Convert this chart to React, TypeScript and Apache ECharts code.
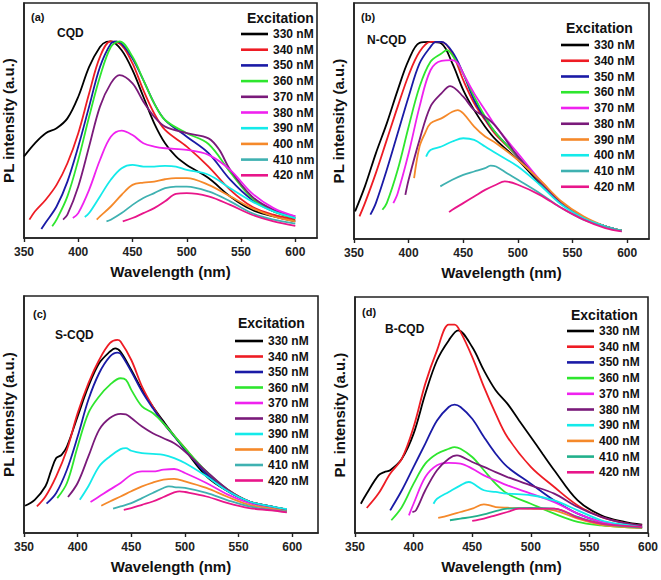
import React, { useEffect, useRef } from "react";
import * as echarts from "echarts";

// ---------- tick values & legend labels ----------
const xTicks = [350, 400, 450, 500, 550, 600];
const labelsA = ["330 nM", "340 nM", "350 nM", "360 nM", "370 nM", "380 nM", "390 nM", "400 nM", "410 nm", "420 nM"];
const labelsBCD = ["330 nM", "340 nM", "350 nM", "360 nM", "370 nM", "380 nM", "390 nM", "400 nM", "410 nM", "420 nM"];

// ---------- (a) CQD ----------
const a330 = [[350,34.7],[360,40.3],[370,44.6],[380,46.7],[390,50.9],[400,60.1],[410,72.8],[420,81.3],[426,83.5],[430,83.7],[440,79.9],[450,71.4],[460,60.1],[470,48.8],[480,40.3],[490,34.7],[500,31.1],[520,25.5],[540,17.7],[560,12.0],[580,9.2],[600,7.1]];
const a340 = [[355,7.8],[360,11.3],[370,16.3],[380,22.6],[390,31.8],[400,44.6],[410,61.5],[420,77.1],[430,83.7],[440,82.0],[450,74.3],[460,62.9],[470,53.0],[480,46.0],[500,38.9],[520,30.4],[540,20.5],[560,13.4],[580,9.9],[600,7.8]];
const a350 = [[366,3.8],[370,6.6],[380,13.4],[390,24.0],[400,38.9],[410,55.9],[420,72.8],[430,82.7],[435,83.7],[440,82.7],[450,76.4],[460,67.2],[470,57.3],[480,50.2],[500,43.1],[520,36.1],[540,24.8],[560,16.3],[580,11.3],[600,8.5]];
const a360 = [[376,5.0],[380,7.8],[390,17.7],[400,33.2],[410,51.6],[420,68.6],[430,81.3],[438,83.7],[450,77.1],[460,67.2],[470,57.3],[480,50.2],[500,44.6],[520,40.0],[540,28.0],[560,17.0],[580,11.3],[600,8.5]];
const a370 = [[386,7.8],[390,9.9],[400,21.9],[410,38.9],[420,55.9],[430,65.8],[438,69.3],[450,65.8],[460,58.0],[470,51.6],[480,47.4],[500,44.6],[520,42.4],[530,37.5],[540,29.0],[560,17.7],[580,12.0],[600,9.2]];
const a380 = [[395,8.5],[400,10.6],[410,20.5],[420,33.2],[430,43.1],[440,45.7],[450,43.8],[460,40.3],[470,38.9],[480,38.2],[500,37.5],[520,35.4],[540,29.0],[560,19.1],[580,12.7],[600,9.2]];
const a390 = [[406,8.9],[410,10.6],[420,17.7],[430,24.8],[440,29.7],[450,31.1],[460,30.4],[470,30.4],[480,30.7],[490,30.4],[500,29.0],[520,26.9],[540,21.2],[560,15.6],[580,11.3],[600,8.5]];
const a400 = [[417,7.8],[420,9.2],[430,13.4],[440,18.4],[450,22.6],[460,23.6],[470,24.0],[480,25.0],[490,25.5],[500,25.5],[520,22.6],[540,17.7],[560,12.7],[580,9.2],[600,7.1]];
const a410 = [[426,7.1],[430,7.8],[440,10.6],[450,14.1],[460,17.0],[470,19.1],[480,21.2],[490,21.9],[500,21.9],[520,19.8],[540,15.6],[560,10.6],[580,7.8],[600,6.1]];
const a420 = [[441,7.1],[450,8.5],[460,10.6],[470,12.7],[480,15.6],[490,18.8],[500,19.1],[520,17.7],[540,14.1],[560,9.9],[580,7.1],[600,5.2]];

// ---------- (b) N-CQD ----------
const b330 = [[351,11.7],[360,22.3],[370,36.3],[380,49.0],[390,63.1],[400,75.8],[410,83.1],[420,83.5],[430,82.8],[440,74.4],[450,63.1],[460,54.6],[470,47.6],[480,42.0],[500,33.5],[520,23.7],[540,15.2],[560,8.9],[580,5.4],[595,3.5]];
const b340 = [[355,9.6],[360,15.2],[370,27.9],[380,42.0],[390,56.1],[400,69.4],[410,79.3],[420,83.5],[430,83.5],[440,78.6],[450,67.3],[460,57.5],[470,50.4],[480,44.1],[500,34.9],[520,24.4],[540,15.2],[560,8.9],[580,5.4],[595,3.5]];
const b350 = [[365,10.3],[370,15.2],[380,29.3],[390,44.8],[400,60.3],[410,74.4],[420,81.4],[425,83.5],[430,83.5],[440,79.3],[450,70.1],[460,58.9],[470,51.1],[480,44.8],[500,34.9],[520,24.4],[540,15.2],[560,8.9],[580,5.4],[595,3.5]];
const b360 = [[376,12.4],[380,15.2],[390,29.3],[400,47.6],[410,64.5],[420,75.1],[430,78.6],[435,80.0],[440,77.9],[450,70.1],[460,60.3],[470,51.8],[480,44.8],[500,34.9],[520,24.4],[540,15.2],[560,8.9],[580,5.4],[595,3.5]];
const b370 = [[386,15.2],[390,19.4],[400,36.3],[410,56.1],[420,71.5],[430,75.5],[440,75.8],[445,74.4],[450,70.1],[460,61.7],[470,54.6],[480,47.6],[500,36.3],[520,25.1],[540,15.2],[560,8.9],[580,5.4],[595,3.2]];
const b380 = [[397,18.7],[400,25.1],[410,42.0],[420,56.1],[430,61.7],[438,64.8],[450,60.3],[460,54.6],[470,51.8],[480,47.6],[500,34.9],[520,24.4],[540,15.2],[560,8.9],[580,5.4],[595,3.5]];
const b390 = [[405,25.8],[410,39.2],[415,44.8],[420,49.0],[430,51.1],[440,53.9],[445,54.6],[450,53.2],[460,47.6],[470,43.4],[480,40.6],[500,33.5],[520,25.1],[540,15.9],[560,9.6],[580,5.4],[595,3.5]];
const b400 = [[416,34.9],[420,37.7],[430,39.2],[440,41.3],[450,42.7],[460,42.0],[470,39.2],[480,36.3],[500,30.7],[520,23.0],[540,14.5],[560,8.9],[580,5.4],[595,3.5]];
const b410 = [[429,22.3],[440,25.1],[450,27.2],[460,28.6],[470,30.0],[475,31.1],[480,30.7],[490,27.9],[500,25.1],[520,19.4],[540,13.1],[560,8.2],[580,5.1],[595,3.5]];
const b420 = [[437,11.4],[440,12.4],[450,15.2],[460,18.0],[470,20.8],[480,23.0],[488,24.4],[500,23.0],[520,18.7],[540,13.1],[560,8.2],[580,4.6],[595,3.2]];

// ---------- (c) S-CQD ----------
const c330 = [[351,11.5],[360,14.0],[370,19.7],[375,26.0],[380,31.6],[385,33.0],[390,36.5],[400,49.2],[410,61.8],[420,71.6],[430,76.5],[435,77.9],[440,76.5],[450,68.8],[460,60.4],[470,53.4],[480,47.1],[500,35.1],[520,23.9],[540,17.6],[560,13.3],[580,11.2],[595,9.8]];
const c340 = [[362,11.2],[370,15.4],[380,23.9],[390,35.1],[400,50.6],[410,63.2],[420,73.0],[430,80.1],[437,81.5],[440,80.8],[450,73.0],[460,61.8],[470,53.4],[480,46.3],[500,35.8],[520,25.3],[540,18.3],[560,13.3],[580,11.2],[595,9.8]];
const c350 = [[371,12.4],[380,16.9],[390,26.7],[400,40.7],[410,56.2],[420,67.4],[430,74.4],[437,76.1],[440,75.6],[450,68.1],[460,59.7],[470,52.7],[480,46.3],[500,35.4],[520,25.0],[540,17.6],[560,13.3],[580,11.2],[595,9.8]];
const c360 = [[381,14.7],[390,21.1],[400,36.5],[410,50.6],[420,57.6],[430,62.5],[440,65.3],[445,64.6],[450,60.4],[460,53.4],[470,50.6],[480,46.3],[500,35.8],[520,26.0],[540,18.3],[560,13.3],[580,11.2],[595,9.8]];
const c370 = [[412,13.1],[420,15.4],[430,18.3],[440,21.1],[450,24.6],[460,26.0],[470,26.0],[480,26.7],[490,27.0],[500,25.3],[520,21.1],[540,16.2],[560,12.6],[580,10.5],[595,9.1]];
const c380 = [[391,15.2],[400,21.1],[410,32.3],[420,43.5],[430,48.5],[440,50.3],[445,50.1],[450,48.5],[460,44.9],[470,42.1],[480,40.0],[490,37.9],[500,34.4],[520,26.0],[540,18.3],[560,13.3],[580,11.2],[595,9.8]];
const c390 = [[402,14.0],[410,19.7],[420,28.1],[430,32.3],[440,35.4],[445,35.8],[450,34.7],[460,33.7],[470,33.4],[480,33.0],[490,31.6],[500,29.5],[520,23.9],[540,17.6],[560,13.3],[580,11.2],[595,10.1]];
const c400 = [[422,11.5],[430,13.3],[440,15.4],[450,17.6],[460,19.7],[470,21.3],[480,22.5],[490,22.8],[500,21.8],[520,19.0],[540,15.2],[560,11.9],[580,10.3],[595,9.1]];
const c410 = [[433,10.3],[440,11.2],[450,12.6],[460,14.7],[470,16.9],[480,19.0],[485,19.7],[490,19.4],[500,19.0],[520,16.9],[540,13.8],[560,11.2],[580,9.8],[595,9.1]];
const c420 = [[443,9.8],[450,10.5],[460,11.9],[470,13.3],[480,15.2],[490,17.1],[495,17.6],[500,17.3],[520,15.4],[540,12.6],[560,10.5],[580,9.6],[595,8.7]];

// ---------- (d) B-CQD ----------
const d330 = [[355,12.4],[360,16.7],[370,24.4],[375,25.8],[380,26.6],[390,31.5],[400,42.1],[410,59.0],[420,73.2],[430,81.6],[438,85.9],[450,78.8],[460,68.9],[470,60.5],[480,54.8],[490,47.7],[500,40.7],[510,33.6],[520,26.6],[540,13.8],[560,7.5],[580,4.7],[595,3.5]];
const d340 = [[360,10.6],[370,16.7],[380,25.1],[390,31.5],[400,44.9],[410,63.3],[420,77.4],[430,88.3],[435,88.3],[440,85.2],[450,74.6],[460,61.9],[470,50.6],[480,40.7],[500,28.0],[520,19.5],[540,11.7],[560,6.8],[580,4.2],[595,3.2]];
const d350 = [[380,9.6],[390,18.1],[400,28.0],[410,37.9],[420,47.7],[430,53.4],[435,54.4],[440,53.4],[450,48.4],[460,40.7],[470,33.6],[480,28.0],[500,20.9],[520,13.8],[540,8.2],[560,4.7],[580,3.2],[595,2.5]];
const d360 = [[381,5.4],[390,11.0],[400,20.9],[410,29.4],[420,33.6],[430,35.7],[435,36.4],[440,35.7],[450,32.2],[460,26.6],[470,20.9],[480,16.7],[500,12.4],[520,8.2],[540,4.7],[560,3.2],[580,2.5],[595,2.3]];
const d370 = [[396,7.5],[400,12.4],[410,23.7],[420,28.7],[430,29.7],[440,29.4],[450,27.3],[460,24.4],[470,22.3],[480,20.2],[500,16.7],[520,13.1],[540,8.2],[560,4.7],[580,3.2],[595,2.5]];
const d380 = [[399,8.9],[402,9.6],[410,18.1],[420,26.6],[430,31.5],[437,32.9],[440,32.6],[450,30.1],[460,28.0],[470,25.8],[480,23.7],[500,20.2],[520,16.7],[540,11.0],[560,6.8],[580,4.2],[595,3.2]];
const d390 = [[417,12.4],[420,14.5],[430,17.4],[440,20.2],[447,21.6],[450,21.2],[460,18.1],[470,17.4],[480,16.7],[500,16.0],[520,13.8],[540,9.6],[560,5.4],[580,3.5],[595,2.5]];
const d400 = [[421,6.4],[430,7.5],[440,8.9],[450,10.3],[460,12.1],[465,11.7],[470,11.0],[480,10.7],[500,10.3],[520,9.6],[540,6.1],[560,3.5],[580,2.5],[595,2.1]];
const d410 = [[431,5.4],[440,6.1],[450,6.8],[460,7.9],[470,9.3],[480,10.3],[500,10.6],[520,10.3],[540,6.8],[560,4.0],[580,2.8],[595,2.3]];
const d420 = [[450,5.1],[460,6.1],[470,7.5],[480,8.9],[490,10.3],[500,10.3],[520,10.3],[530,8.9],[540,6.5],[560,4.0],[580,3.0],[595,2.5]];

// ---------- colours ----------
const BLACK = "#000000", RED = "#ee1c24", BLUE = "#1a1aa6", GREEN = "#2ee62e", MAGENTA = "#ef22ef",
  PURPLE = "#7a1a7a", CYAN = "#14eaea", ORANGE = "#f5892a", TEAL = "#3fb1b1", TEAL2 = "#22b08c", PINK = "#e8168a";
const colorsA = [BLACK, RED, BLUE, GREEN, PURPLE, MAGENTA, CYAN, ORANGE, TEAL, PINK];
const colorsB = [BLACK, RED, BLUE, GREEN, MAGENTA, PURPLE, ORANGE, CYAN, TEAL, PINK];
const colorsC = [BLACK, RED, BLUE, GREEN, MAGENTA, PURPLE, CYAN, ORANGE, TEAL, PINK];
const colorsD = [BLACK, RED, BLUE, GREEN, MAGENTA, PURPLE, CYAN, ORANGE, TEAL2, PINK];

const FONT = "Liberation Sans";

const panels = [
  { tag: "(a)", name: "CQD", labels: labelsA, colors: colorsA, curves: [a330, a340, a350, a360, a370, a380, a390, a400, a410, a420],
    grid: { left: 24, top: 3, width: 293, height: 235 }, xMax: 620,
    tagPos: [31, 17], namePos: [57, 33], excPos: [247, 18], legPos: [241, 27], legW: 27, legGap: 1.7 },
  { tag: "(b)", name: "N-CQD", labels: labelsBCD, colors: colorsB, curves: [b330, b340, b350, b360, b370, b380, b390, b400, b410, b420],
    grid: { left: 354, top: 3, width: 295, height: 236 }, xMax: 620,
    tagPos: [361, 17], namePos: [367, 40], excPos: [566, 28], legPos: [561, 38], legW: 28, legGap: 1.75 },
  { tag: "(c)", name: "S-CQD", labels: labelsBCD, colors: colorsC, curves: [c330, c340, c350, c360, c370, c380, c390, c400, c410, c420],
    grid: { left: 24, top: 296, width: 294, height: 237 }, xMax: 624,
    tagPos: [33, 314], namePos: [55, 335], excPos: [238, 323], legPos: [235, 334], legW: 28, legGap: 1.5 },
  { tag: "(d)", name: "B-CQD", labels: labelsBCD, colors: colorsD, curves: [d330, d340, d350, d360, d370, d380, d390, d400, d410, d420],
    grid: { left: 355, top: 297, width: 294, height: 236 }, xMax: 600,
    tagPos: [362, 312], namePos: [385, 329], excPos: [571, 315], legPos: [567, 324], legW: 27, legGap: 1.7 },
];

function buildOption() {
  const grids: any[] = [], xAxes: any[] = [], yAxes: any[] = [], series: any[] = [], legends: any[] = [], graphics: any[] = [];
  panels.forEach((p, pi) => {
    grids.push({ ...p.grid, show: true, borderColor: "#222", borderWidth: 1.6, backgroundColor: "#fff" });
    xAxes.push({
      type: "value", gridIndex: pi, min: 350, max: p.xMax, interval: 50,
      name: "Wavelength (nm)", nameLocation: "middle", nameGap: 26,
      nameTextStyle: { fontFamily: FONT, fontWeight: "bold", fontSize: 15, color: "#111" },
      axisLine: { show: true, lineStyle: { color: "#222", width: 1.6 } },
      axisTick: { show: true, length: 4, inside: false, customValues: xTicks, lineStyle: { color: "#222", width: 1.4 } },
      axisLabel: { show: true, customValues: xTicks, margin: 8, fontFamily: FONT, fontWeight: "bold", fontSize: 12, color: "#222" },
      splitLine: { show: false },
    });
    yAxes.push({
      type: "value", gridIndex: pi, min: 0, max: 100,
      name: "PL intensity (a.u.)", nameLocation: "middle", nameGap: 8,
      nameTextStyle: { fontFamily: FONT, fontWeight: "bold", fontSize: 15, color: "#111" },
      axisLine: { show: true, lineStyle: { color: "#222", width: 1.6 } },
      axisTick: { show: false }, axisLabel: { show: false }, splitLine: { show: false },
    });
    p.curves.forEach((c, ci) => {
      series.push({
        type: "line", name: p.labels[ci], xAxisIndex: pi, yAxisIndex: pi, data: c,
        smooth: 0.35, showSymbol: false, symbol: "none",
        lineStyle: { color: p.colors[ci], width: 1.8 }, itemStyle: { color: p.colors[ci] },
      });
    });
    legends.push({
      orient: "vertical", left: p.legPos[0], top: p.legPos[1], padding: 0,
      icon: "rect", itemWidth: p.legW, itemHeight: 2.6, itemGap: p.legGap, selectedMode: false,
      textStyle: { fontFamily: FONT, fontWeight: "bold", fontSize: 12, color: "#111", lineHeight: 14 },
      data: p.labels.map((n, i) => ({ name: n, icon: "rect", itemStyle: { color: p.colors[i] }, lineStyle: { color: p.colors[i] } })),
    });
    graphics.push(
      { type: "text", x: p.tagPos[0], y: p.tagPos[1], style: { text: p.tag, fontFamily: FONT, fontWeight: "bold", fontSize: 11, fill: "#111", verticalAlign: "middle", align: "left" } },
      { type: "text", x: p.namePos[0], y: p.namePos[1], style: { text: p.name, fontFamily: FONT, fontWeight: "bold", fontSize: 12, fill: "#111", verticalAlign: "middle", align: "left" } },
      { type: "text", x: p.excPos[0], y: p.excPos[1], style: { text: "Excitation", fontFamily: FONT, fontWeight: "bold", fontSize: 14, fill: "#111", verticalAlign: "middle", align: "left" } },
    );
  });
  return {
    animation: false, backgroundColor: "#ffffff",
    grid: grids, xAxis: xAxes, yAxis: yAxes, series, legend: legends, graphic: graphics,
  };
}

export default function App() {
  const ref = useRef<HTMLDivElement>(null);
  useEffect(() => {
    if (!ref.current) return;
    const chart = echarts.init(ref.current, null, { renderer: "svg" });
    chart.setOption(buildOption() as any);
    return () => chart.dispose();
  }, []);
  return <div ref={ref} style={{ position: "absolute", left: 0, top: 0, width: 661, height: 580, background: "#fff" }} />;
}
